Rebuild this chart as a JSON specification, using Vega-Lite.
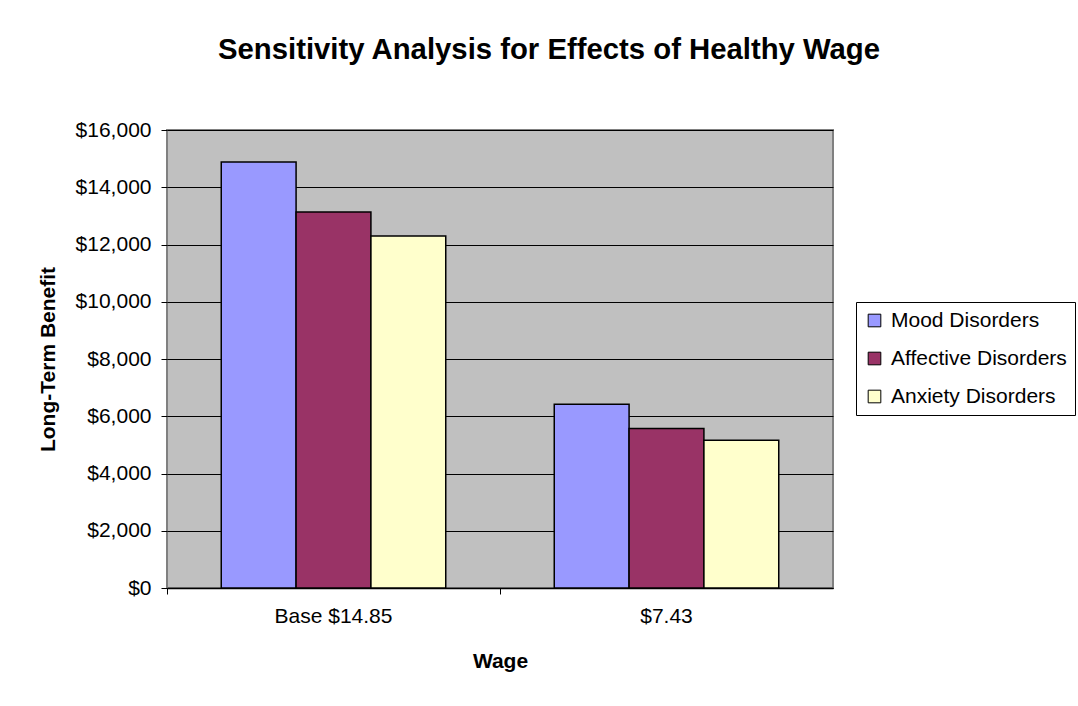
{
  "$schema": "https://vega.github.io/schema/vega-lite/v6.json",
  "autosize": {"type": "none"},
  "width": 666,
  "height": 458,
  "padding": {"left": 167, "top": 130, "right": 245, "bottom": 118},
  "background": "white",
  "title": {
    "text": "Sensitivity Analysis for Effects of Healthy Wage",
    "font": "Liberation Sans",
    "fontSize": 29.3,
    "fontWeight": "bold",
    "color": "black",
    "anchor": "middle",
    "dx": 49,
    "offset": 54
  },
  "data": {
    "values": [
      {"wage": "Base $14.85", "disorder": "Mood Disorders", "benefit": 14882},
      {"wage": "Base $14.85", "disorder": "Affective Disorders", "benefit": 13134},
      {"wage": "Base $14.85", "disorder": "Anxiety Disorders", "benefit": 12295},
      {"wage": "$7.43", "disorder": "Mood Disorders", "benefit": 6422},
      {"wage": "$7.43", "disorder": "Affective Disorders", "benefit": 5569},
      {"wage": "$7.43", "disorder": "Anxiety Disorders", "benefit": 5163}
    ]
  },
  "mark": {"type": "bar", "stroke": "black", "strokeWidth": 1.5},
  "encoding": {
    "x": {
      "field": "wage",
      "type": "nominal",
      "sort": ["Base $14.85", "$7.43"],
      "scale": {"paddingInner": 0, "paddingOuter": 0},
      "title": "Wage",
      "axis": {
        "labelAngle": 0,
        "labelFont": "Liberation Sans",
        "labelFontSize": 21,
        "labelColor": "black",
        "labelPadding": 11,
        "bandPosition": 0,
        "tickSize": 6,
        "tickColor": "black",
        "domainColor": "black",
        "domainWidth": 1.5,
        "titleFont": "Liberation Sans",
        "titleFontSize": 21,
        "titleFontWeight": "bold",
        "titleColor": "black",
        "titlePadding": 24
      }
    },
    "xOffset": {
      "field": "disorder",
      "type": "nominal",
      "sort": ["Mood Disorders", "Affective Disorders", "Anxiety Disorders"],
      "scale": {"paddingInner": 0, "paddingOuter": 0.725}
    },
    "y": {
      "field": "benefit",
      "type": "quantitative",
      "scale": {"domain": [0, 16000], "nice": false},
      "title": "Long-Term Benefit",
      "axis": {
        "values": [0, 2000, 4000, 6000, 8000, 10000, 12000, 14000, 16000],
        "format": "$,.0f",
        "grid": true,
        "gridColor": "black",
        "gridWidth": 1,
        "domain": false,
        "tickSize": 6,
        "tickColor": "black",
        "labelFont": "Liberation Sans",
        "labelFontSize": 21,
        "labelColor": "black",
        "labelPadding": 10,
        "titleFont": "Liberation Sans",
        "titleFontSize": 21,
        "titleFontWeight": "bold",
        "titleColor": "black",
        "titlePadding": 17
      }
    },
    "fill": {
      "field": "disorder",
      "type": "nominal",
      "sort": ["Mood Disorders", "Affective Disorders", "Anxiety Disorders"],
      "scale": {
        "domain": ["Mood Disorders", "Affective Disorders", "Anxiety Disorders"],
        "range": ["#9999FF", "#993366", "#FFFFCC"]
      },
      "legend": {
        "title": null,
        "orient": "none",
        "legendX": 689,
        "legendY": 172,
        "fillColor": "white",
        "strokeColor": "black",
        "padding": 8,
        "symbolType": "square",
        "symbolSize": 160,
        "symbolStrokeColor": "black",
        "symbolStrokeWidth": 1,
        "labelFont": "Liberation Sans",
        "labelFontSize": 21,
        "labelColor": "black",
        "labelLimit": 0,
        "labelOffset": 6,
        "rowPadding": 16
      }
    }
  },
  "config": {
    "view": {"fill": "#C0C0C0", "stroke": "#808080", "strokeWidth": 2}
  }
}
